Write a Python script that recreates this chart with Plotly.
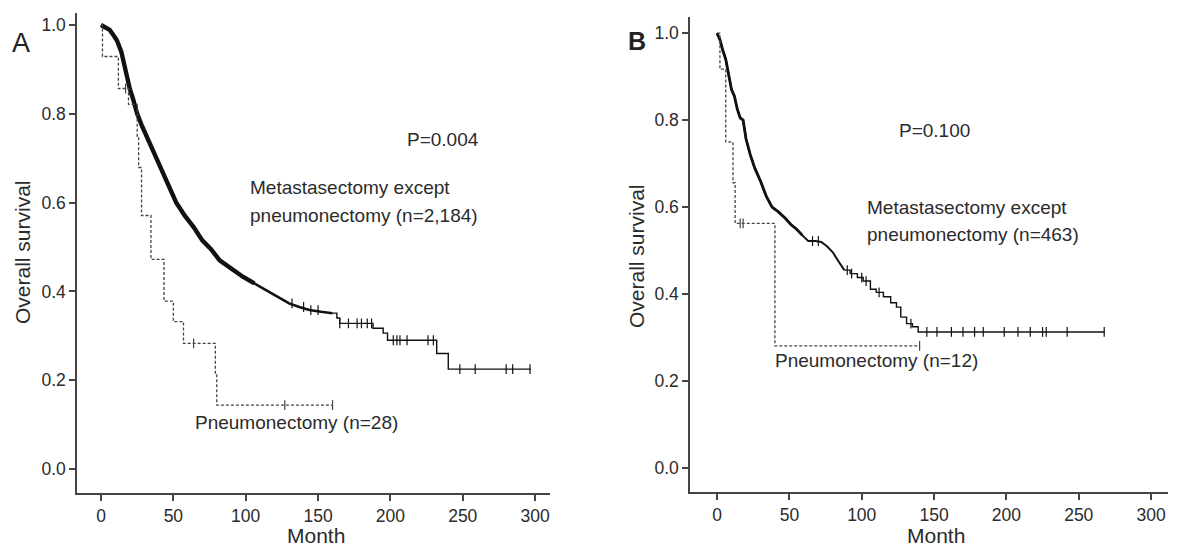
import numpy as np
import plotly.graph_objects as go

# --- Panel A: Kaplan-Meier ---
a_meta_t = [0, 3, 6, 9, 11, 14, 16, 18, 20, 22, 25, 28, 32, 36, 41, 46, 52, 58, 64, 70,
            76, 82, 90, 98, 106, 114, 122, 130, 137, 144, 152, 160, 163, 165, 184, 188,
            195, 198, 230, 232, 240, 297]
a_meta_s = [1.0, 0.995, 0.989, 0.975, 0.965, 0.94, 0.91, 0.88, 0.855, 0.835, 0.80, 0.775,
            0.745, 0.715, 0.68, 0.645, 0.60, 0.57, 0.545, 0.515, 0.495, 0.47, 0.45, 0.433,
            0.418, 0.403, 0.387, 0.373, 0.365, 0.358, 0.354, 0.351, 0.34, 0.328, 0.328,
            0.317, 0.306, 0.29, 0.29, 0.26, 0.225, 0.225]
a_meta_cens_t = [132, 140, 145, 150, 165, 171, 177, 180, 184, 187, 202, 204.5, 206.6, 211.5,
                 226, 229.7, 248, 258.6, 280, 284.5, 296.5]

a_pneu_t = [0, 1, 12, 19, 25, 26, 28, 34.5, 43.5, 50, 57, 79, 80, 160]
a_pneu_s = [1.0, 0.929, 0.857, 0.821, 0.75, 0.679, 0.571, 0.472, 0.378, 0.332, 0.283,
            0.216, 0.144, 0.144]
a_pneu_cens_t = [17, 64, 127, 160]

# --- Panel B ---
b_meta_t = [0, 2, 4, 6, 8, 10, 12, 14, 16, 18, 20, 23, 26, 30, 34, 38, 42, 47, 51, 55, 59,
            63, 68, 72, 76, 80, 84, 88, 92, 97, 101, 106, 110, 115, 120, 124, 127, 131,
            135, 139, 268]
b_meta_s = [1.0, 0.985, 0.96, 0.94, 0.905, 0.87, 0.855, 0.825, 0.805, 0.80, 0.757, 0.72,
            0.69, 0.66, 0.625, 0.60, 0.59, 0.575, 0.56, 0.549, 0.535, 0.522, 0.522, 0.52,
            0.51, 0.496, 0.475, 0.455, 0.447, 0.438, 0.43, 0.411, 0.404, 0.394, 0.38, 0.37,
            0.347, 0.332, 0.325, 0.313, 0.313]
b_meta_cens_t = [66, 70, 90, 93, 100, 103, 112, 134, 145, 152, 162, 170, 178, 184, 198.5,
                 208, 216.5, 225, 227.5, 242, 267.6]

b_pneu_t = [0, 2, 6, 11, 12.5, 40, 140]
b_pneu_s = [1.0, 0.917, 0.75, 0.656, 0.5625, 0.281, 0.281]
b_pneu_cens_t = [16, 18, 140]

x_ticks = [0, 50, 100, 150, 200, 250, 300]
y_ticks = [0.0, 0.2, 0.4, 0.6, 0.8, 1.0]

W, H = 1180, 546
FONT = "Liberation Sans, Arial, sans-serif"
INK = "#111111"
TXT = "#2b2b2b"


def step_value(ts, ss, t):
    # survival at time t from a right-continuous step function
    idx = np.searchsorted(np.array(ts), t, side="right") - 1
    return ss[max(idx, 0)]


fig = go.Figure()


def add_line(t, s, xa, ya, width, shape, color=INK, dash="solid"):
    fig.add_trace(go.Scatter(x=t, y=s, mode="lines", xaxis=xa, yaxis=ya,
                             line=dict(color=color, width=width, shape=shape, dash=dash),
                             showlegend=False, hoverinfo="skip"))


def add_cens(t, s, cens_t, xa, ya, color=INK):
    cy = [step_value(t, s, c) for c in cens_t]
    fig.add_trace(go.Scatter(
        x=cens_t, y=cy, mode="markers", xaxis=xa, yaxis=ya, showlegend=False,
        hoverinfo="skip",
        marker=dict(symbol="line-ns", size=7, line=dict(color=color, width=1.2))
    ))


def add_meta(t, s, cens_t, xa, ya, segs, t_smooth):
    # dense part of the curve: many small events, drawn smooth
    t = np.array(t)
    s = np.array(s)
    for t_end, w in segs:
        m = t <= t_end
        add_line(t[m], s[m], xa, ya, w, "linear")
    m = t >= t_smooth
    add_line(t[m], s[m], xa, ya, 1.4, "hv")
    add_cens(t, s, cens_t, xa, ya)


def add_pneu(t, s, cens_t, xa, ya):
    add_line(t, s, xa, ya, 1.3, "hv", color="#444444", dash="3px,2px")
    add_cens(t, s, cens_t, xa, ya, color="#444444")


add_meta(a_meta_t, a_meta_s, a_meta_cens_t, "x", "y", [(160, 2.6), (110, 4.4)], 160)
add_pneu(a_pneu_t, a_pneu_s, a_pneu_cens_t, "x", "y")
add_meta(b_meta_t, b_meta_s, b_meta_cens_t, "x2", "y2", [(88, 2.0), (60, 2.8)], 88)
add_pneu(b_pneu_t, b_pneu_s, b_pneu_cens_t, "x2", "y2")

axis_common = dict(
    showline=True, linecolor="#444444", linewidth=1.5, ticks="outside", ticklen=6,
    tickwidth=1.5, tickcolor="#444444", showgrid=False, zeroline=False, automargin=False,
    tickfont=dict(family=FONT, size=17.5, color=TXT),
)

fig.update_layout(
    width=W, height=H,
    paper_bgcolor="white", plot_bgcolor="white",
    margin=dict(l=0, r=0, t=0, b=0),
    xaxis=dict(domain=[77 / W, 550 / W], range=[-16.6, 310.3], tickvals=x_ticks,
               anchor="y", **axis_common),
    yaxis=dict(domain=[(H - 493) / H, (H - 13) / H], range=[-0.054, 1.027], tickvals=y_ticks,
               tickformat=".1f", anchor="x", **axis_common),
    xaxis2=dict(domain=[690 / W, 1168 / W], range=[-18.7, 311.7], tickvals=x_ticks,
                anchor="y2", **axis_common),
    yaxis2=dict(domain=[(H - 492) / H, (H - 17) / H], range=[-0.055, 1.037], tickvals=y_ticks,
                tickformat=".1f", anchor="x2", **axis_common),
)

txt = dict(family=FONT, size=19, color=TXT)
notes = [
    ("x", "y", 210, 0.743, "P=0.004"),
    ("x", "y", 101.6, 0.635, "Metastasectomy except"),
    ("x", "y", 101.6, 0.57, "pneumonectomy (n=2,184)"),
    ("x", "y", 63.6, 0.104, "Pneumonectomy (n=28)"),
    ("x2", "y2", 124.4, 0.775, "P=0.100"),
    ("x2", "y2", 102.3, 0.598, "Metastasectomy except"),
    ("x2", "y2", 102.3, 0.536, "pneumonectomy (n=463)"),
    ("x2", "y2", 38.5, 0.248, "Pneumonectomy (n=12)"),
]
for xr, yr, x, y, t in notes:
    fig.add_annotation(x=x, y=y, xref=xr, yref=yr, text=t, showarrow=False,
                       xanchor="left", yanchor="middle", font=txt)

# axis titles placed by hand
title_font = dict(family=FONT, size=21, color=TXT)
for x, y, t, ang in [(22, 252, "Overall survival", -90), (636, 256, "Overall survival", -90),
                     (316, 535, "Month", 0), (936, 535, "Month", 0)]:
    fig.add_annotation(x=x / W, y=(H - y) / H, xref="paper", yref="paper", text=t,
                       textangle=ang, showarrow=False, xanchor="center", yanchor="middle",
                       font=title_font)

fig.add_annotation(x=10 / W, y=(H - 43) / H, xref="paper", yref="paper", text="A",
                   showarrow=False, xanchor="left", yanchor="middle",
                   font=dict(family=FONT, size=27, color="#222222"))
fig.add_annotation(x=626 / W, y=(H - 41) / H, xref="paper", yref="paper", text="<b>B</b>",
                   showarrow=False, xanchor="left", yanchor="middle",
                   font=dict(family=FONT, size=25, color="#222222"))

# page body has a default 8px margin; drop it so the figure sits at the corner
fig.write_html("out.html", config={"displayModeBar": False},
               post_script="document.body.style.margin='0';")
